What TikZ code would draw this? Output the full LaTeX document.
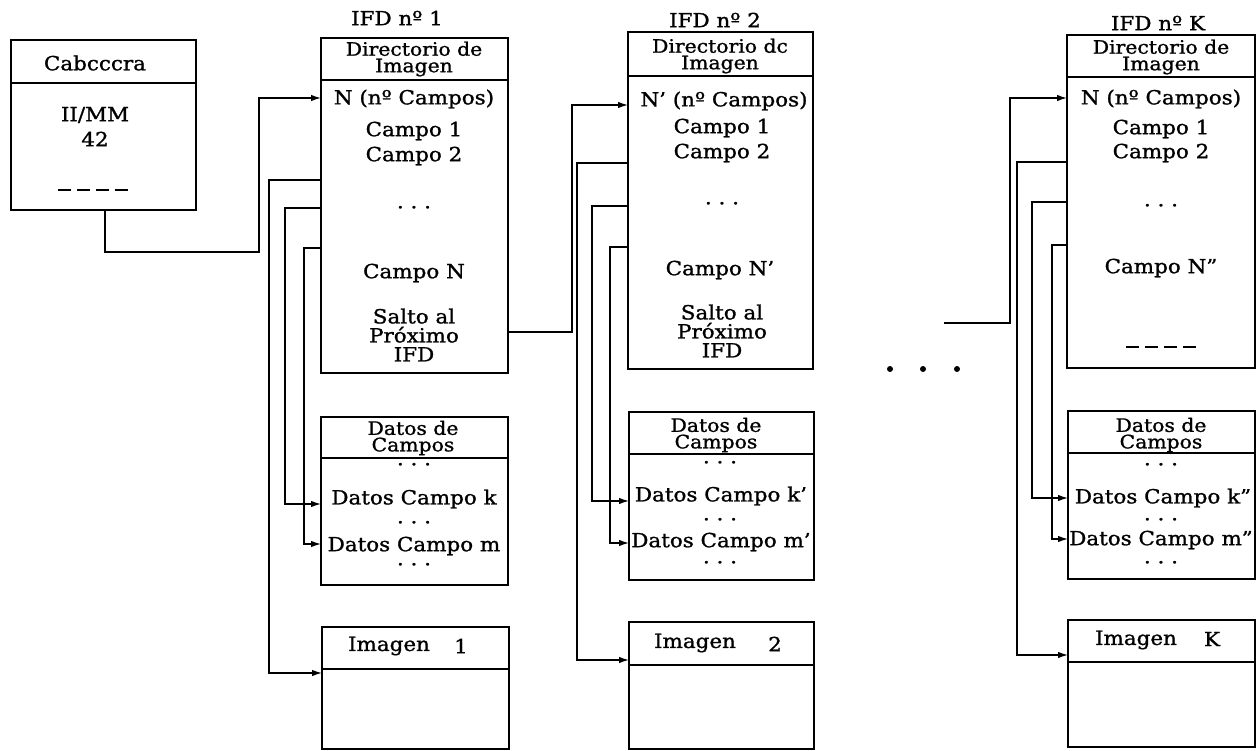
\documentclass[tikz,border=0pt]{standalone}
\usepackage{fontspec}
\setmainfont{DejaVu Serif}[FakeStretch=1.1, FakeBold=1.2]
\usetikzlibrary{arrows.meta}
\begin{document}
\begin{tikzpicture}[x=1pt,y=-1pt,
 box/.style={draw, line width=1.6pt, inner sep=0pt, outer sep=0pt, anchor=north west},
 div/.style={line width=1.6pt},
 txt/.style={inner sep=0pt, align=center, font=\fontsize{19.5}{19}\selectfont},
 two/.style={inner sep=0pt, align=center, font=\fontsize{18.5}{16.5}\selectfont},
 conn/.style={line width=1.3pt},
 arr/.style={conn, -{Latex[length=10pt,width=6.5pt]}},
 dash4/.style={line width=1.3pt, dash pattern=on 13pt off 6pt}
]
\useasboundingbox (0,0) rectangle (1260,751);

% ---------------- Cabecera
\node[box, minimum width=185pt, minimum height=170pt] (cab) at (11,40) {};
\draw[div] (cab.west |- 0,83) -- (cab.east |- 0,83);
\node[txt] (cabT) at (95,63) {Cabcccra};
\node[txt] (cabA) at (95,115) {II/MM};
\node[txt] (cabB) at (95,139) {42};
\coordinate (cabd1) at (58,190);
\coordinate (cabd2) at (134,190);
\draw[dash4] (cabd1) -- (cabd2);

% ---------------- IFD 1
\node[txt] (lab1) at (397,18) {IFD nº 1};
\node[box, minimum width=187pt, minimum height=335pt] (ifd1) at (321,38) {};
\draw[div] (ifd1.west |- 0,80) -- (ifd1.east |- 0,80);
\node[two] (h1) at (414,59) {Directorio de\\Imagen};
\node[txt] (i1a) at (414,99) {N (nº Campos)};
\node[txt] (i1b) at (414,131) {Campo 1};
\node[txt] (i1c) at (414,156) {Campo 2};
\node[txt] (i1d) at (414,210) {· · ·};
\node[txt] (i1e) at (414,273) {Campo N};
\node[txt] (i1f) at (414,335) {Salto al\\Próximo\\IFD};

\node[box, minimum width=187pt, minimum height=168pt] (dat1) at (321,417) {};
\draw[div] (dat1.west |- 0,458) -- (dat1.east |- 0,458);
\node[two] (d1a) at (413,438) {Datos de\\Campos};
\node[txt] (d1c) at (414,467) {· · ·};
\node[txt] (d1d) at (414,499) {Datos Campo k};
\node[txt] (d1e) at (414,525) {· · ·};
\node[txt] (d1f) at (414,546) {Datos Campo m};
\node[txt] (d1g) at (414,567) {· · ·};

\node[box, minimum width=187pt, minimum height=122pt] (img1) at (322,627) {};
\draw[div] (img1.west |- 0,669) -- (img1.east |- 0,669);
\node[txt] (m1a) at (389,646) {Imagen};
\node[txt] (m1b) at (461,646) {1};

% ---------------- IFD 2
\node[txt] (lab2) at (715,20) {IFD nº 2};
\node[box, minimum width=185pt, minimum height=337pt] (ifd2) at (628,32) {};
\draw[div] (ifd2.west |- 0,76) -- (ifd2.east |- 0,76);
\node[two] (h2) at (720,56) {Directorio dc\\Imagen};
\node[txt] (i2a) at (724,101) {N' (nº Campos)};
\node[txt] (i2b) at (722,128) {Campo 1};
\node[txt] (i2c) at (722,153) {Campo 2};
\node[txt] (i2d) at (722,206) {· · ·};
\node[txt] (i2e) at (720,270) {Campo N'};
\node[txt] (i2f) at (722,331) {Salto al\\Próximo\\IFD};

\node[box, minimum width=185pt, minimum height=168pt] (dat2) at (629,412) {};
\draw[div] (dat2.west |- 0,454) -- (dat2.east |- 0,454);
\node[two] (d2a) at (716,435) {Datos de\\Campos};
\node[txt] (d2c) at (720,465) {· · ·};
\node[txt] (d2d) at (721,496) {Datos Campo k'};
\node[txt] (d2e) at (720,522) {· · ·};
\node[txt] (d2f) at (721,542) {Datos Campo m'};
\node[txt] (d2g) at (720,565) {· · ·};

\node[box, minimum width=185pt, minimum height=127pt] (img2) at (629,622) {};
\draw[div] (img2.west |- 0,665) -- (img2.east |- 0,665);
\node[txt] (m2a) at (695,643) {Imagen};
\node[txt] (m2b) at (775,644) {2};

% ---------------- IFD K
\node[txt] (labK) at (1158,23) {IFD nº K};
\node[box, minimum width=188pt, minimum height=333pt] (ifdK) at (1067,35) {};
\draw[div] (ifdK.west |- 0,77) -- (ifdK.east |- 0,77);
\node[two] (hK) at (1161,57) {Directorio de\\Imagen};
\node[txt] (iKa) at (1161,99) {N (nº Campos)};
\node[txt] (iKb) at (1161,129) {Campo 1};
\node[txt] (iKc) at (1161,153) {Campo 2};
\node[txt] (iKd) at (1161,208) {· · ·};
\node[txt] (iKe) at (1161,268) {Campo N"};
\coordinate (kd1) at (1126,347);
\coordinate (kd2) at (1201,347);
\draw[dash4] (kd1) -- (kd2);

\node[box, minimum width=187pt, minimum height=168pt] (datK) at (1068,411) {};
\draw[div] (datK.west |- 0,453) -- (datK.east |- 0,453);
\node[two] (dKa) at (1161,435) {Datos de\\Campos};
\node[txt] (dKc) at (1161,467) {· · ·};
\node[txt] (dKd) at (1163,498) {Datos Campo k"};
\node[txt] (dKe) at (1161,522) {· · ·};
\node[txt] (dKf) at (1161,540) {Datos Campo m"};
\node[txt] (dKg) at (1161,565) {· · ·};

\node[box, minimum width=187pt, minimum height=127pt] (imgK) at (1068,620) {};
\draw[div] (imgK.west |- 0,662) -- (imgK.east |- 0,662);
\node[txt] (mKa) at (1136,640) {Imagen};
\node[txt] (mKb) at (1212,639) {K};

% ---------------- dots between
\fill (890,369) circle (3pt);
\fill (923,369) circle (3pt);
\fill (957,369) circle (3pt);
\coordinate (fromdots) at (944,323);

% ---------------- connectors
\draw[arr] (cab.south -| 105,0) -- (105,252) -| (259,98) -- (ifd1.west |- 0,98);

\draw[arr] (ifd1.west |- 0,180) -| (269,673) -- (img1.west |- 0,673);
\draw[arr] (ifd1.west |- 0,208) -| (285,504) -- (dat1.west |- 0,504);
\draw[arr] (ifd1.west |- 0,248) -| (304,544) -- (dat1.west |- 0,544);
\draw[arr] (ifd1.east |- 0,332) -| (572,105) -- (ifd2.west |- 0,105);

\draw[arr] (ifd2.west |- 0,163) -| (577,660) -- (img2.west |- 0,660);
\draw[arr] (ifd2.west |- 0,206) -| (592,501) -- (dat2.west |- 0,501);
\draw[arr] (ifd2.west |- 0,247) -| (610,543) -- (dat2.west |- 0,543);

\draw[arr] (fromdots) -| (1010,98) -- (ifdK.west |- 0,98);
\draw[arr] (ifdK.west |- 0,162) -| (1017,655) -- (imgK.west |- 0,655);
\draw[arr] (ifdK.west |- 0,202) -| (1032,498) -- (datK.west |- 0,498);
\draw[arr] (ifdK.west |- 0,245) -| (1052,539) -- (datK.west |- 0,539);
\end{tikzpicture}
\end{document}
